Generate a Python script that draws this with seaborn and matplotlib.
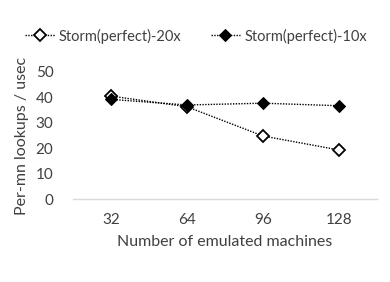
import matplotlib
matplotlib.use("Agg")
import matplotlib.pyplot as plt
import seaborn as sns
import pandas as pd

machines = ["32", "64", "96", "128"]
storm_20x = [40.5, 36.3, 24.8, 19.3]
storm_10x = [39.2, 37.0, 37.7, 36.7]
series_names = ["Storm(perfect)-20x", "Storm(perfect)-10x"]

sns.set_theme(style="white")
plt.rcParams["font.family"] = ["Lato", "DejaVu Sans"]

fig = plt.figure(figsize=(3.9, 2.82), dpi=100)
ax = fig.add_axes([0.187, 0.294, 0.78, 0.451])

df20 = pd.DataFrame({"x": machines, "y": storm_20x})
df10 = pd.DataFrame({"x": machines, "y": storm_10x})

sns.lineplot(data=df20, x="x", y="y", ax=ax, color="black", linestyle=(0, (1, 1)),
             linewidth=1.0, marker="D", markersize=6.5, markerfacecolor="white",
             markeredgecolor="black", markeredgewidth=1.3, label=series_names[0])
sns.lineplot(data=df10, x="x", y="y", ax=ax, color="black", linestyle=(0, (1, 1)),
             linewidth=1.0, marker="D", markersize=6.5, markerfacecolor="black",
             markeredgecolor="black", label=series_names[1])

ax.set_xlim(-0.5, 3.5)
ax.set_ylim(0, 50)
ax.set_yticks([0, 10, 20, 30, 40, 50])
for s in ["top", "right", "left"]:
    ax.spines[s].set_visible(False)
ax.spines["bottom"].set_color("#d9d9d9")
ax.spines["bottom"].set_linewidth(1.0)
ax.tick_params(axis="both", length=0, labelsize=11, colors="#404040")
ax.tick_params(axis="y", pad=14)
ax.tick_params(axis="x", pad=10)
ax.set_xlabel("Number of emulated machines", fontsize=11.5, color="#404040", labelpad=6)
ax.set_ylabel("Per-mn lookups / usec", fontsize=11.5, color="#404040", labelpad=5)

ax.legend(loc="lower center", bbox_to_anchor=(0.405, 1.12), ncol=2, frameon=False,
          fontsize=10.5, handlelength=2.0, columnspacing=2.0, handletextpad=0.3,
          labelcolor="#404040")

fig.savefig("out.png", dpi=100)
